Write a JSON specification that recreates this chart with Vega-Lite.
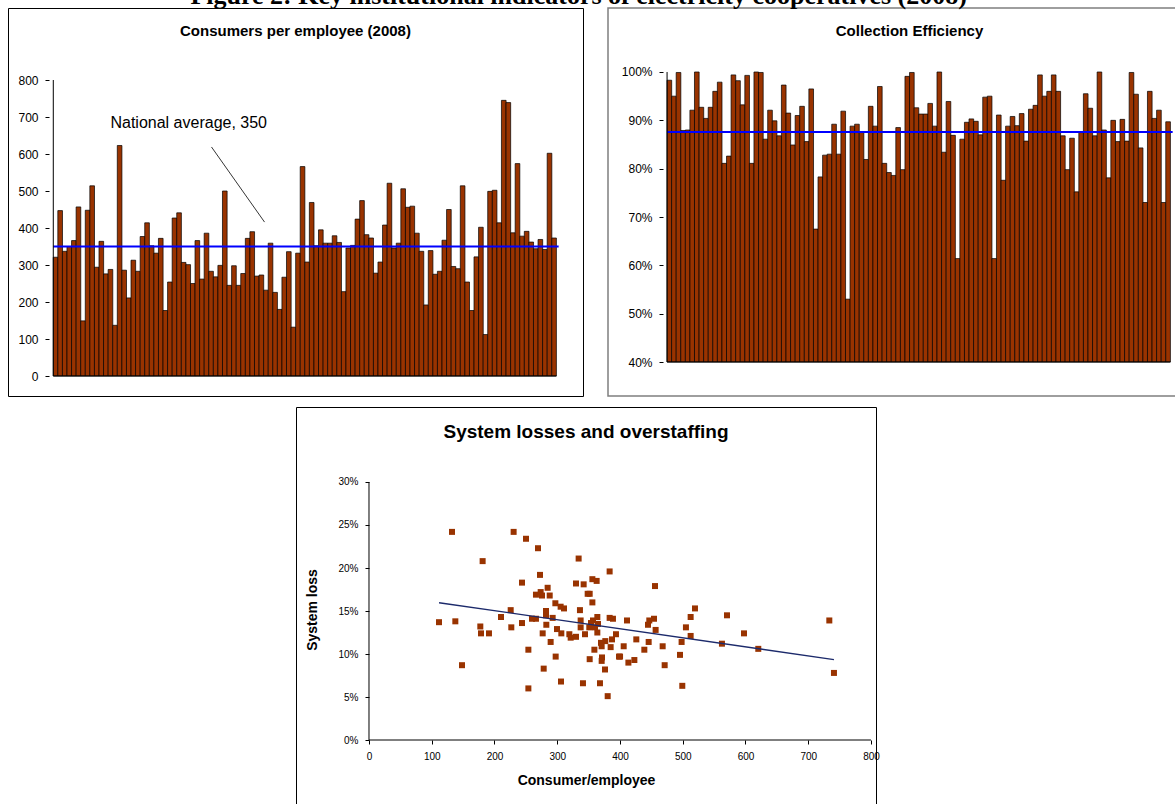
{
  "$schema": "https://vega.github.io/schema/vega-lite/v6.json",
  "padding": {"left": 7, "top": -17, "right": 0, "bottom": 0},
  "background": "white",
  "title": {"text": "Figure 2: Key institutional indicators of electricity cooperatives (2008)", "font": "Liberation Serif", "fontSize": 26, "fontWeight": "bold", "color": "black", "anchor": "middle", "dx": -24, "offset": -2},
  "config": {
    "font": "Liberation Sans",
    "axis": {"grid": false, "domain": false, "labelColor": "black", "tickColor": "black", "titleColor": "black", "labelFont": "Liberation Sans", "titleFont": "Liberation Sans"},
    "title": {"color": "black", "font": "Liberation Sans"}
  },
  "datasets": {
    "cpe": [
      {"i":1,"v":321},{"i":2,"v":447},{"i":3,"v":337},{"i":4,"v":350},{"i":5,"v":366},{"i":6,"v":457},{"i":7,"v":149},{"i":8,"v":448},{"i":9,"v":514},{"i":10,"v":294},
      {"i":11,"v":364},{"i":12,"v":276},{"i":13,"v":288},{"i":14,"v":137},{"i":15,"v":623},{"i":16,"v":286},{"i":17,"v":211},{"i":18,"v":313},{"i":19,"v":283},{"i":20,"v":377},
      {"i":21,"v":414},{"i":22,"v":352},{"i":23,"v":332},{"i":24,"v":372},{"i":25,"v":177},{"i":26,"v":254},{"i":27,"v":427},{"i":28,"v":441},{"i":29,"v":307},{"i":30,"v":301},
      {"i":31,"v":250},{"i":32,"v":366},{"i":33,"v":262},{"i":34,"v":386},{"i":35,"v":283},{"i":36,"v":268},{"i":37,"v":299},{"i":38,"v":500},{"i":39,"v":245},{"i":40,"v":298},
      {"i":41,"v":245},{"i":42,"v":277},{"i":43,"v":372},{"i":44,"v":390},{"i":45,"v":270},{"i":46,"v":273},{"i":47,"v":232},{"i":48,"v":359},{"i":49,"v":226},{"i":50,"v":180},
      {"i":51,"v":267},{"i":52,"v":336},{"i":53,"v":132},{"i":54,"v":332},{"i":55,"v":566},{"i":56,"v":308},{"i":57,"v":469},{"i":58,"v":352},{"i":59,"v":395},{"i":60,"v":359},
      {"i":61,"v":359},{"i":62,"v":379},{"i":63,"v":361},{"i":64,"v":228},{"i":65,"v":346},{"i":66,"v":353},{"i":67,"v":424},{"i":68,"v":474},{"i":69,"v":382},{"i":70,"v":373},
      {"i":71,"v":278},{"i":72,"v":308},{"i":73,"v":408},{"i":74,"v":521},{"i":75,"v":346},{"i":76,"v":359},{"i":77,"v":506},{"i":78,"v":456},{"i":79,"v":459},{"i":80,"v":386},
      {"i":81,"v":337},{"i":82,"v":192},{"i":83,"v":339},{"i":84,"v":275},{"i":85,"v":283},{"i":86,"v":367},{"i":87,"v":450},{"i":88,"v":296},{"i":89,"v":290},{"i":90,"v":514},
      {"i":91,"v":254},{"i":92,"v":177},{"i":93,"v":322},{"i":94,"v":402},{"i":95,"v":112},{"i":96,"v":499},{"i":97,"v":502},{"i":98,"v":414},{"i":99,"v":745},{"i":100,"v":739},
      {"i":101,"v":387},{"i":102,"v":574},{"i":103,"v":378},{"i":104,"v":391},{"i":105,"v":362},{"i":106,"v":344},{"i":107,"v":369},{"i":108,"v":342},{"i":109,"v":602},{"i":110,"v":373}
    ],
    "ce": [
      {"i":1,"v":0.983},{"i":2,"v":0.95},{"i":3,"v":0.999},{"i":4,"v":0.879},{"i":5,"v":0.88},{"i":6,"v":0.921},{"i":7,"v":1.0},{"i":8,"v":0.927},{"i":9,"v":0.904},{"i":10,"v":0.927},
      {"i":11,"v":0.96},{"i":12,"v":0.979},{"i":13,"v":0.811},{"i":14,"v":0.826},{"i":15,"v":0.994},{"i":16,"v":0.982},{"i":17,"v":0.932},{"i":18,"v":0.993},{"i":19,"v":0.811},{"i":20,"v":1.0},
      {"i":21,"v":0.999},{"i":22,"v":0.861},{"i":23,"v":0.921},{"i":24,"v":0.899},{"i":25,"v":0.868},{"i":26,"v":0.973},{"i":27,"v":0.915},{"i":28,"v":0.849},{"i":29,"v":0.91},{"i":30,"v":0.929},
      {"i":31,"v":0.856},{"i":32,"v":0.965},{"i":33,"v":0.675},{"i":34,"v":0.783},{"i":35,"v":0.828},{"i":36,"v":0.83},{"i":37,"v":0.892},{"i":38,"v":0.83},{"i":39,"v":0.919},{"i":40,"v":0.53},
      {"i":41,"v":0.888},{"i":42,"v":0.892},{"i":43,"v":0.875},{"i":44,"v":0.819},{"i":45,"v":0.929},{"i":46,"v":0.888},{"i":47,"v":0.97},{"i":48,"v":0.811},{"i":49,"v":0.792},{"i":50,"v":0.786},
      {"i":51,"v":0.885},{"i":52,"v":0.798},{"i":53,"v":0.991},{"i":54,"v":0.999},{"i":55,"v":0.926},{"i":56,"v":0.913},{"i":57,"v":0.913},{"i":58,"v":0.935},{"i":59,"v":0.888},{"i":60,"v":1.0},
      {"i":61,"v":0.834},{"i":62,"v":0.939},{"i":63,"v":0.869},{"i":64,"v":0.614},{"i":65,"v":0.861},{"i":66,"v":0.896},{"i":67,"v":0.903},{"i":68,"v":0.898},{"i":69,"v":0.87},{"i":70,"v":0.948},
      {"i":71,"v":0.95},{"i":72,"v":0.614},{"i":73,"v":0.911},{"i":74,"v":0.776},{"i":75,"v":0.888},{"i":76,"v":0.908},{"i":77,"v":0.889},{"i":78,"v":0.914},{"i":79,"v":0.857},{"i":80,"v":0.923},
      {"i":81,"v":0.931},{"i":82,"v":0.994},{"i":83,"v":0.95},{"i":84,"v":0.96},{"i":85,"v":0.994},{"i":86,"v":0.96},{"i":87,"v":0.868},{"i":88,"v":0.798},{"i":89,"v":0.863},{"i":90,"v":0.752},
      {"i":91,"v":0.876},{"i":92,"v":0.955},{"i":93,"v":0.925},{"i":94,"v":0.868},{"i":95,"v":1.0},{"i":96,"v":0.88},{"i":97,"v":0.781},{"i":98,"v":0.9},{"i":99,"v":0.856},{"i":100,"v":0.902},
      {"i":101,"v":0.857},{"i":102,"v":0.999},{"i":103,"v":0.954},{"i":104,"v":0.843},{"i":105,"v":0.73},{"i":106,"v":0.96},{"i":107,"v":0.904},{"i":108,"v":0.921},{"i":109,"v":0.73},{"i":110,"v":0.897}
    ],
    "sl": [
      {"ce":111.6,"loss":0.137},{"ce":132.3,"loss":0.242},{"ce":137.6,"loss":0.138},{"ce":148.2,"loss":0.087},{"ce":177.4,"loss":0.132},{"ce":178.5,"loss":0.124},{"ce":181.1,"loss":0.208},{"ce":191.2,"loss":0.124},{"ce":210.4,"loss":0.143},{"ce":225.8,"loss":0.151},
      {"ce":226.8,"loss":0.131},{"ce":230.5,"loss":0.242},{"ce":243.8,"loss":0.183},{"ce":243.8,"loss":0.136},{"ce":250.2,"loss":0.234},{"ce":254,"loss":0.105},{"ce":254,"loss":0.06},{"ce":259.8,"loss":0.141},{"ce":266.1,"loss":0.141},{"ce":266.1,"loss":0.169},
      {"ce":269.3,"loss":0.223},{"ce":272.5,"loss":0.192},{"ce":273.6,"loss":0.172},{"ce":275.7,"loss":0.168},{"ce":276.8,"loss":0.124},{"ce":278.4,"loss":0.083},{"ce":282.1,"loss":0.15},{"ce":282.1,"loss":0.145},{"ce":282.6,"loss":0.134},{"ce":284.7,"loss":0.177},
      {"ce":288.0,"loss":0.168},{"ce":289.5,"loss":0.114},{"ce":292.7,"loss":0.142},{"ce":297.0,"loss":0.159},{"ce":297.5,"loss":0.097},{"ce":299.6,"loss":0.129},{"ce":305.4,"loss":0.155},{"ce":306.0,"loss":0.068},{"ce":306.5,"loss":0.124},{"ce":310.8,"loss":0.153},
      {"ce":319.3,"loss":0.123},{"ce":321.4,"loss":0.119},{"ce":329.9,"loss":0.12},{"ce":329.9,"loss":0.182},{"ce":334.1,"loss":0.211},{"ce":336.2,"loss":0.151},{"ce":337.3,"loss":0.139},{"ce":337.3,"loss":0.131},{"ce":341.0,"loss":0.066},{"ce":342.1,"loss":0.181},
      {"ce":344.2,"loss":0.123},{"ce":348.5,"loss":0.17},{"ce":351.7,"loss":0.17},{"ce":351.1,"loss":0.131},{"ce":351.7,"loss":0.094},{"ce":353.8,"loss":0.136},{"ce":356.0,"loss":0.187},{"ce":356.0,"loss":0.16},{"ce":357.0,"loss":0.139},{"ce":359.2,"loss":0.105},
      {"ce":360.2,"loss":0.131},{"ce":362.8,"loss":0.185},{"ce":363.9,"loss":0.143},{"ce":363.9,"loss":0.125},{"ce":365.0,"loss":0.135},{"ce":368.1,"loss":0.066},{"ce":369.7,"loss":0.113},{"ce":370.8,"loss":0.109},{"ce":371.3,"loss":0.096},{"ce":370.8,"loss":0.092},
      {"ce":376.1,"loss":0.082},{"ce":376.6,"loss":0.115},{"ce":380.4,"loss":0.051},{"ce":383.5,"loss":0.196},{"ce":383.5,"loss":0.142},{"ce":387.3,"loss":0.117},{"ce":385.1,"loss":0.108},{"ce":388.8,"loss":0.141},{"ce":393.6,"loss":0.123},{"ce":398.4,"loss":0.097},
      {"ce":411.2,"loss":0.139},{"ce":405.9,"loss":0.109},{"ce":400.1,"loss":0.097},{"ce":413.4,"loss":0.09},{"ce":422.9,"loss":0.093},{"ce":426.0,"loss":0.117},{"ce":438.8,"loss":0.105},{"ce":444.6,"loss":0.134},{"ce":446.7,"loss":0.139},{"ce":445.7,"loss":0.114},
      {"ce":454.2,"loss":0.141},{"ce":455.8,"loss":0.179},{"ce":456.8,"loss":0.128},{"ce":468.0,"loss":0.109},{"ce":471.2,"loss":0.087},{"ce":495.6,"loss":0.099},{"ce":498.2,"loss":0.114},{"ce":499.3,"loss":0.063},{"ce":505.1,"loss":0.131},{"ce":512.6,"loss":0.143},
      {"ce":512.6,"loss":0.121},{"ce":519.5,"loss":0.153},{"ce":562.5,"loss":0.112},{"ce":570.5,"loss":0.145},{"ce":597.6,"loss":0.124},{"ce":620.4,"loss":0.106},{"ce":733.6,"loss":0.139},{"ce":741.0,"loss":0.078}
    ],
    "trend": [{"ce":111.6,"loss":0.1596},{"ce":741.0,"loss":0.0935}],
    "avg1": [{"avg":350}],
    "avg2": [{"avg":0.876}]
  },
  "spacing": 9,
  "vconcat": [
    {
      "spacing": 23,
      "hconcat": [
        {
          "width": 575, "height": 388,
          "view": {"stroke": "black", "strokeWidth": 1},
          "title": {"text": "Consumers per employee (2008)", "fontSize": 15, "fontWeight": "bold", "baseline": "middle", "offset": -37.5, "anchor": "middle"},
          "layer": [
            {"data": {"name": "cpe"},
             "mark": {"type": "bar", "width": 4.65, "fill": "#993300", "stroke": "black", "strokeWidth": 0.7},
             "encoding": {
               "x": {"field": "i", "type": "quantitative", "scale": {"domain": [-8.31, 115.23], "nice": false, "zero": false}, "axis": null},
               "y": {"field": "v", "type": "quantitative", "title": null, "scale": {"domain": [-54.05, 994.6], "nice": false, "zero": false},
                     "axis": {"values": [0,100,200,300,400,500,600,700,800], "offset": -41, "tickSize": 4, "labelFontSize": 12, "labelPadding": 7, "title": null}},
               "y2": {"datum": 0}
             }},
            {"data": {"name": "avg1"}, "mark": {"type": "rule", "color": "#0000ff", "strokeWidth": 2},
             "encoding": {"y": {"field": "avg", "type": "quantitative", "title": null}, "x": {"datum": 0.5}, "x2": {"datum": 111}}},
            {"data": {"values": [{}]}, "mark": {"type": "rule", "color": "black", "strokeWidth": 1},
             "encoding": {"x": {"datum": 0.5}, "y": {"datum": 0}, "y2": {"datum": 800}}},
            {"data": {"values": [{}]}, "mark": {"type": "rule", "color": "black", "strokeWidth": 1},
             "encoding": {"y": {"datum": 0}, "x": {"datum": 0.5}, "x2": {"datum": 110.5}}},
            {"data": {"values": [{}]}, "mark": {"type": "text", "text": "National average, 350", "fontSize": 16, "align": "left", "baseline": "middle", "color": "black"},
             "encoding": {"x": {"datum": 13.0}, "y": {"datum": 684}}},
            {"data": {"values": [{}]}, "mark": {"type": "rule", "color": "black", "strokeWidth": 0.8},
             "encoding": {"x": {"datum": 35.09}, "y": {"datum": 619}, "x2": {"datum": 46.69}, "y2": {"datum": 416}}}
          ]
        },
        {
          "width": 589, "height": 388,
          "view": {"stroke": "#7f7f7f", "strokeWidth": 1.5},
          "title": {"text": "Collection Efficiency", "fontSize": 15, "fontWeight": "bold", "baseline": "middle", "offset": -37.5, "anchor": "middle", "dx": 7},
          "layer": [
            {"data": {"name": "ce"},
             "mark": {"type": "bar", "width": 4.65, "fill": "#993300", "stroke": "black", "strokeWidth": 0.7},
             "encoding": {
               "x": {"field": "i", "type": "quantitative", "scale": {"domain": [-11.317, 115.227], "nice": false, "zero": false}, "axis": null},
               "y": {"field": "v", "type": "quantitative", "title": null, "scale": {"domain": [0.32966, 1.13241], "nice": false, "zero": false},
                     "axis": {"values": [0.4,0.5,0.6,0.7,0.8,0.9,1.0], "format": ".0%", "offset": -55, "tickSize": 4, "labelFontSize": 12, "labelPadding": 7, "title": null}},
               "y2": {"datum": 0.4}
             }},
            {"data": {"name": "avg2"}, "mark": {"type": "rule", "color": "#0000ff", "strokeWidth": 2},
             "encoding": {"y": {"field": "avg", "type": "quantitative", "title": null}, "x": {"datum": 0.5}, "x2": {"datum": 111}}},
            {"data": {"values": [{}]}, "mark": {"type": "rule", "color": "black", "strokeWidth": 1},
             "encoding": {"x": {"datum": 0.5}, "y": {"datum": 0.4}, "y2": {"datum": 1.0}}},
            {"data": {"values": [{}]}, "mark": {"type": "rule", "color": "black", "strokeWidth": 1},
             "encoding": {"y": {"datum": 0.4}, "x": {"datum": 0.5}, "x2": {"datum": 110.5}}}
          ]
        }
      ]
    },
    {
      "spacing": 20,
      "hconcat": [
        {"width": 267, "height": 10, "view": {"stroke": null}, "data": {"values": [{}]}, "mark": {"type": "text", "text": ""}},
        {
          "width": 580, "height": 405,
          "view": {"stroke": "black", "strokeWidth": 1},
          "title": {"text": "System losses and overstaffing", "fontSize": 19, "fontWeight": "bold", "baseline": "middle", "offset": -44, "anchor": "middle"},
          "layer": [
            {"data": {"values": [{}]}, "mark": {"type": "rule", "color": "black", "strokeWidth": 1},
             "encoding": {"x": {"datum": 0}, "y": {"datum": 0}, "y2": {"datum": 0.3}}},
            {"data": {"values": [{}]}, "mark": {"type": "rule", "color": "black", "strokeWidth": 1},
             "encoding": {"y": {"datum": 0}, "x": {"datum": 0}, "x2": {"datum": 800}}},
            {"data": {"name": "sl"},
             "mark": {"type": "square", "size": 36, "color": "#993300", "opacity": 1, "filled": true},
             "encoding": {
               "x": {"field": "ce", "type": "quantitative", "scale": {"domain": [-116.33, 808], "nice": false, "zero": false},
                     "axis": {"values": [0,100,200,300,400,500,600,700,800], "offset": -72, "tickSize": 4, "labelFontSize": 10, "labelPadding": 7, "title": "Consumer/employee", "titleFontSize": 14, "titleFontWeight": "bold", "titlePadding": 12}},
               "y": {"field": "loss", "type": "quantitative", "scale": {"domain": [-0.0837, 0.3872], "nice": false, "zero": false},
                     "axis": {"values": [0,0.05,0.1,0.15,0.2,0.25,0.3], "format": ".0%", "offset": -73, "tickSize": 4, "labelFontSize": 10, "labelPadding": 7, "title": "System loss", "titleFontSize": 14, "titleFontWeight": "bold", "titlePadding": 18}}
             }},
            {"data": {"name": "trend"}, "mark": {"type": "line", "color": "#1c2a6b", "strokeWidth": 1.3},
             "encoding": {"x": {"field": "ce", "type": "quantitative"}, "y": {"field": "loss", "type": "quantitative"}}}
          ]
        }
      ]
    }
  ]
}
